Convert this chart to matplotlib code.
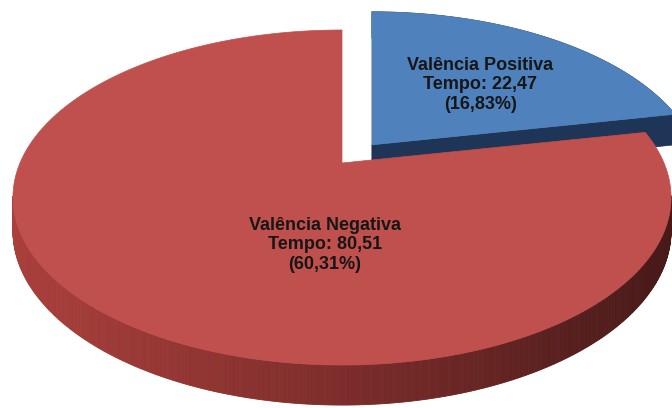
import numpy as np
import matplotlib
matplotlib.use("Agg")
import matplotlib.pyplot as plt
from matplotlib.patches import Polygon

# ---- data ----
labels = ["Valência Positiva", "Valência Negativa"]
values = [22.47, 80.51]
percents = ["16,83%", "60,31%"]
value_text = ["22,47", "80,51"]

# ---- style / geometry (pixel space) ----
W, H = 672, 408
CX, CY = 342.0, 163.0      # projected pie centre
A, B = 322.0, 160.4        # plane scale
K = 0.206                  # perspective factor
D = 31.8                   # thickness
EXPLODE = [0.15, 0.0]
top_colors = ["#4F81BD", "#C0504D"]
side_colors = ["#1F3557", None]
text_color = "#161616"
label_pos = [(0.365, 0.405), (-0.048, -0.462)]  # plane coords of labels (before explode)


def proj(u, v, z=0.0):
    s = 1.0 + K * v
    return CX + A * u / s, CY + (-B * v + D * z) / s


def lerp_col(c0, c1, t):
    return tuple((a + (b - a) * t) / 255.0 for a, b in zip(c0, c1))


def side_col(x):
    stops = [(0, (172, 64, 60)), (340, (125, 45, 43)), (672, (70, 25, 24))]
    for (x0, c0), (x1, c1) in zip(stops[:-1], stops[1:]):
        if x <= x1:
            return lerp_col(c0, c1, (x - x0) / (x1 - x0))
    return lerp_col(stops[-1][1], stops[-1][1], 0)


fig = plt.figure(figsize=(W / 100, H / 100), dpi=100)
ax = fig.add_axes([0, 0, 1, 1])
ax.set_xlim(0, W)
ax.set_ylim(H, 0)
ax.axis("off")

total = sum(values)
angles = []
start = 90.0
for val in values:
    sweep = 360.0 * val / total
    angles.append((start, start - sweep))
    start -= sweep

# ---- blue (back) slice first, exploded in screen space ----
i = 0
a0, a1 = angles[i]
mid = np.radians((a0 + a1) / 2)
ex, ey = proj(EXPLODE[i] * np.cos(mid), EXPLODE[i] * np.sin(mid))
dx, dy = ex - CX, ey - CY


def pj(u, v, z=0.0):
    x, y = proj(u, v, z)
    return x + dx, y + dy


th = np.radians(np.linspace(a0, a1, 200))
ca, sa = np.cos(np.radians(a1)), np.sin(np.radians(a1))
face = [pj(0, 0, 0), pj(ca, sa, 0), pj(ca, sa, 1), pj(0, 0, 1)]
ax.add_patch(Polygon(face, closed=True, facecolor=side_colors[i], edgecolor=side_colors[i], lw=0.5))
top_arc = [pj(np.cos(t), np.sin(t), 0) for t in th]
bot_arc = [pj(np.cos(t), np.sin(t), 1) for t in th]
ax.add_patch(Polygon(top_arc + bot_arc[::-1], closed=True, facecolor=side_colors[i],
                     edgecolor=side_colors[i], lw=0.5))
pts = [pj(0, 0, 0)] + top_arc
ax.add_patch(Polygon(pts, closed=True, facecolor=top_colors[i], edgecolor=top_colors[i], lw=0.5))
label_xy = [pj(*label_pos[i])]

# ---- red (front) slice ----
i = 1
a0, a1 = angles[i]
th = np.radians(np.linspace(a0, a1, 720))
vis_lo, vis_hi = -180 + np.degrees(np.arcsin(K)), -np.degrees(np.arcsin(K))
for t0, t1 in zip(th[:-1], th[1:]):
    md = np.degrees((t0 + t1) / 2)
    if not (vis_lo - 0.5 <= md <= vis_hi + 0.5):
        continue
    q = [proj(np.cos(t0), np.sin(t0), 0), proj(np.cos(t1), np.sin(t1), 0),
         proj(np.cos(t1), np.sin(t1), 1), proj(np.cos(t0), np.sin(t0), 1)]
    xm = sum(p[0] for p in q) / 4
    c = side_col(xm)
    ax.add_patch(Polygon(q, closed=True, facecolor=c, edgecolor=c, lw=0.6))
top_arc = [proj(np.cos(t), np.sin(t), 0) for t in th]
pts = [proj(0, 0, 0)] + top_arc
ax.add_patch(Polygon(pts, closed=True, facecolor=top_colors[i], edgecolor=top_colors[i], lw=0.5))
label_xy.append(proj(*label_pos[i]))

# ---- labels ----
for i in range(len(values)):
    x, y = label_xy[i]
    txt = f"{labels[i]}\nTempo: {value_text[i]}\n({percents[i]})"
    ax.text(x, y, txt, ha="center", va="center", fontsize=13, fontweight="bold",
            family=["Liberation Sans", "DejaVu Sans"], color=text_color, linespacing=1.2)

fig.savefig("out.png", dpi=100)
